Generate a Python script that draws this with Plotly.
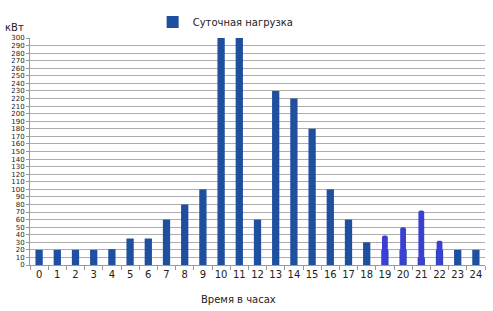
import plotly.graph_objects as go

hours = [str(h) for h in range(25)]
load = [20, 20, 20, 20, 21, 35, 35, 60, 80, 100, 300, 300, 60, 230, 220, 180, 100, 60, 30, 20, 20, 10, 20, 20, 20]
drawn_hours = ["19", "20", "21", "22"]
drawn_load = [39, 50, 72, 32]
y_ticks = list(range(0, 301, 10))

fig = go.Figure()
fig.add_trace(go.Bar(x=hours, y=load, name="Суточная нагрузка",
                     marker=dict(color="#1f4f9f", line=dict(width=0))))
fig.add_trace(go.Bar(x=drawn_hours, y=drawn_load, showlegend=False, width=0.32,
                     marker=dict(color="#3b3fd4", line=dict(width=0), cornerradius=3)))

fig.update_layout(
    width=493, height=311,
    margin=dict(l=30, r=8, t=30, b=46),
    paper_bgcolor="white", plot_bgcolor="white",
    barmode="overlay", bargap=0.6,
    font=dict(family="DejaVu Sans", color="#222"),
    legend=dict(orientation="h", x=0.43, xanchor="center", y=1.07, yanchor="middle",
                font=dict(size=10), itemwidth=30),
    xaxis=dict(type="category", tickfont=dict(size=10), tickangle=0, showgrid=False,
               showline=True, linecolor="#999", ticks="outside", tickson="boundaries",
               ticklen=4, tickcolor="#999"),
    yaxis=dict(range=[0, 300], tickvals=y_ticks, ticktext=[str(v) for v in y_ticks],
               tickfont=dict(size=7), showgrid=True, gridcolor="#adadad", gridwidth=1,
               showline=True, linecolor="#999", ticks="outside", ticklen=3, tickcolor="#999",
               zeroline=False),
    annotations=[
        dict(text="кВт", x=0, xref="paper", xanchor="right", xshift=-4,
             y=1, yref="paper", yanchor="bottom", yshift=3,
             showarrow=False, font=dict(size=10)),
        dict(text="Время в часах", x=0.458, xref="paper", xanchor="center",
             y=0, yref="paper", yanchor="top", yshift=-27,
             showarrow=False, font=dict(size=10)),
    ],
)
fig.write_html("out.html")
